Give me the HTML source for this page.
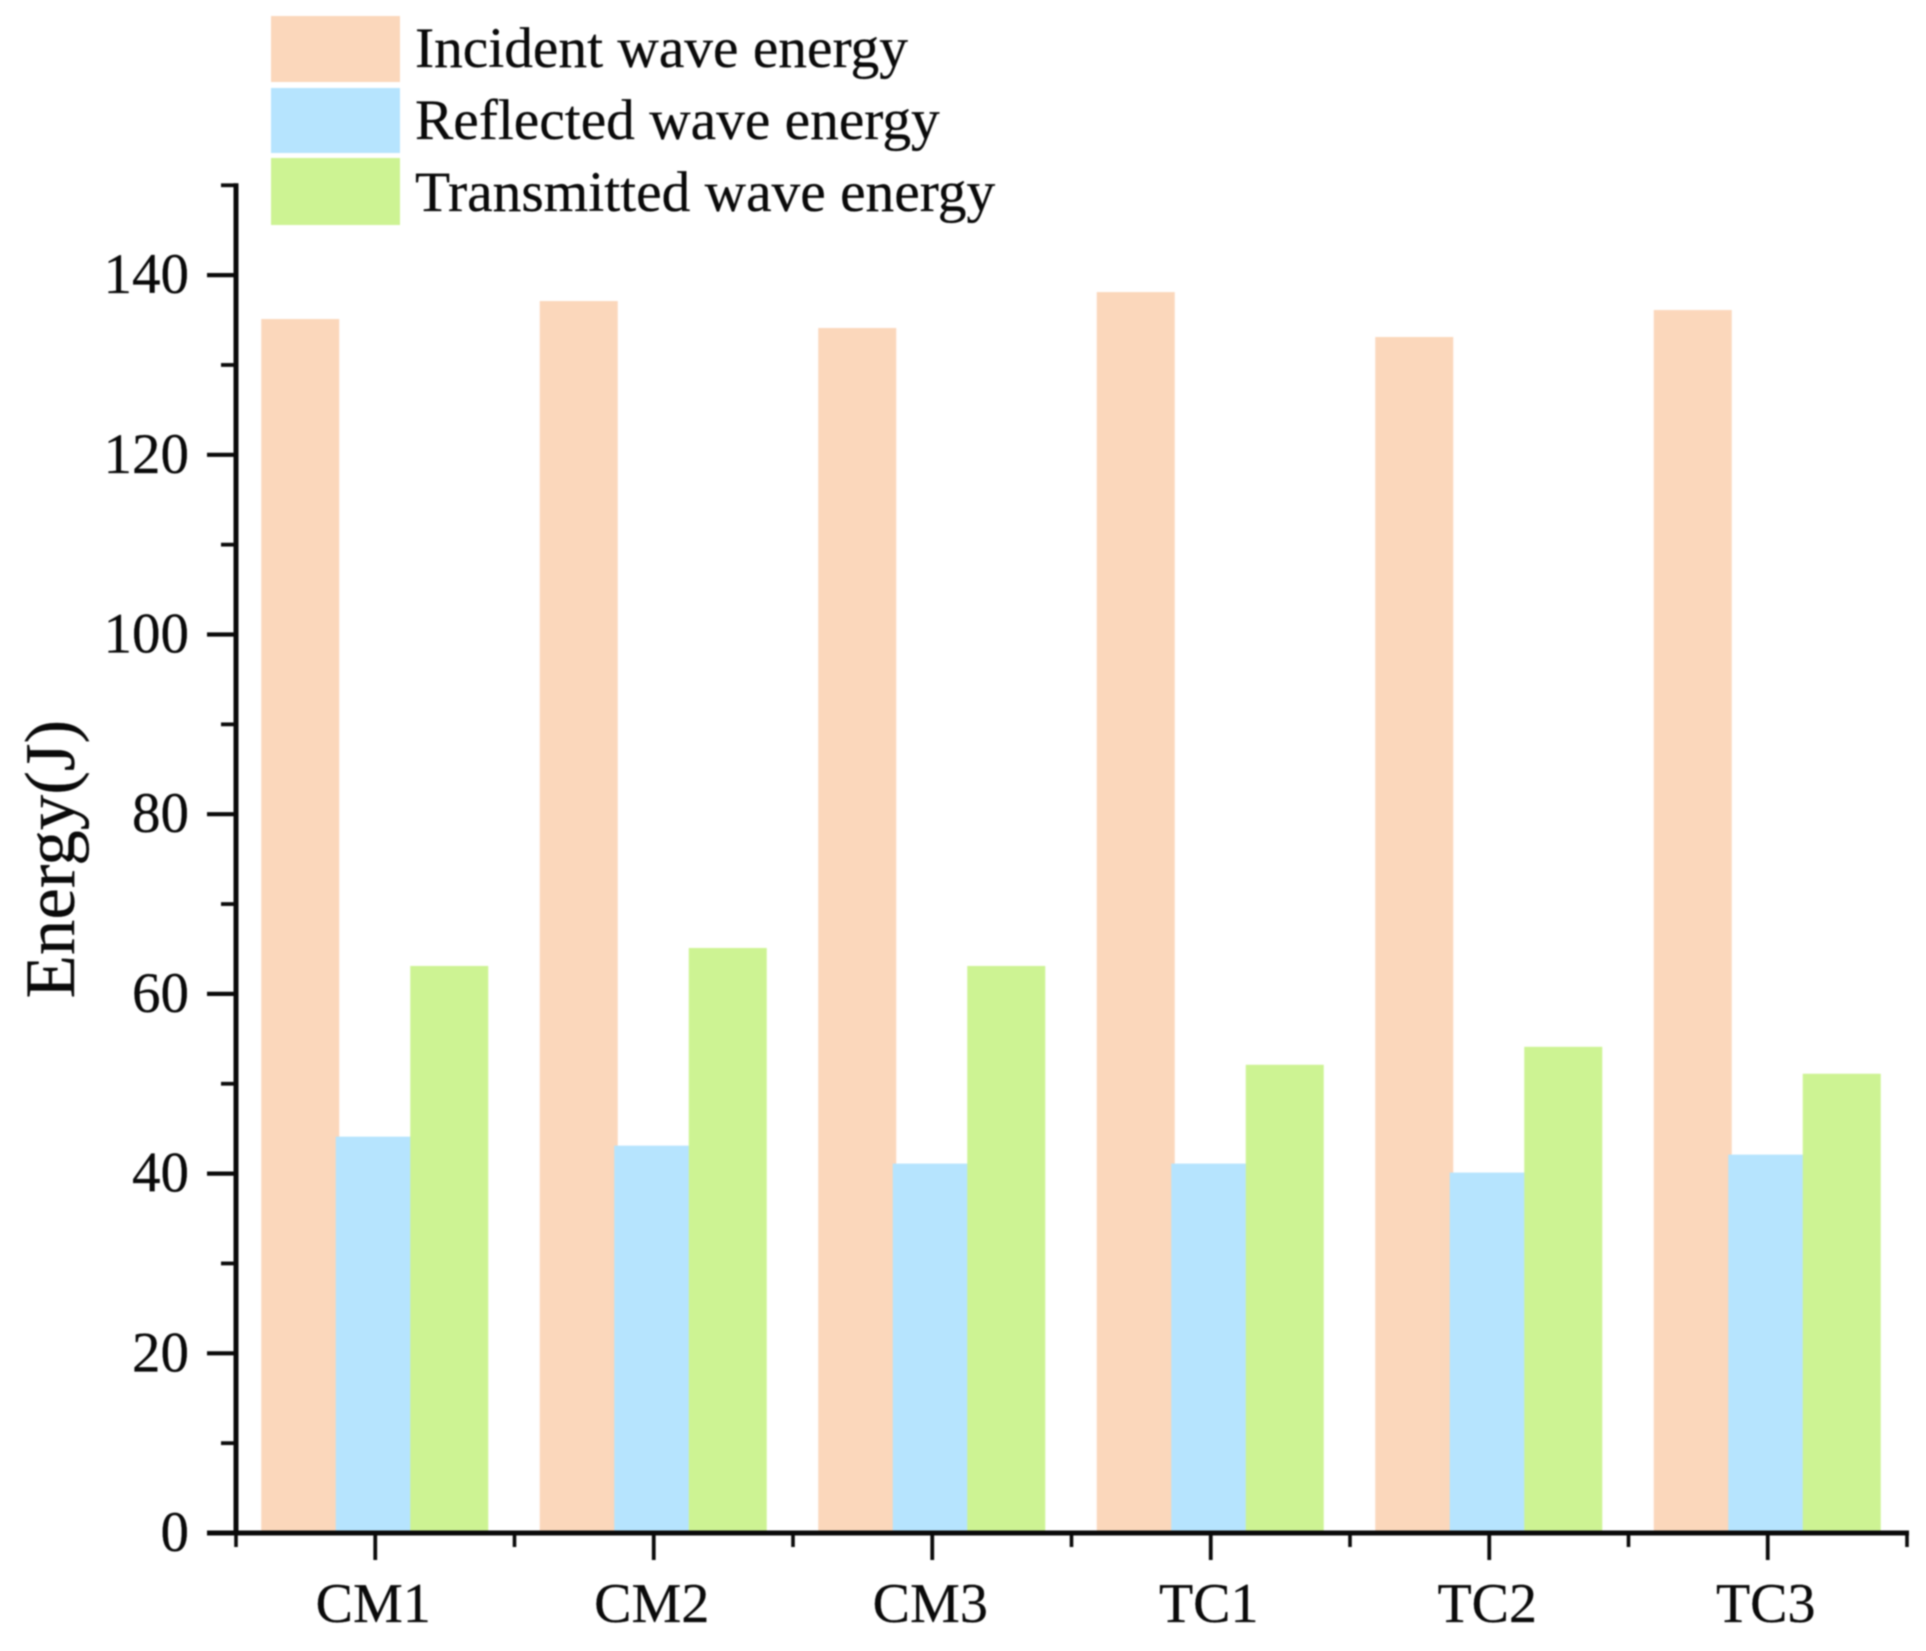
<!DOCTYPE html>
<html lang="en">
<head>
<meta charset="utf-8">
<title>Energy bar chart</title>
<style>
  html, body { margin: 0; padding: 0; background: #ffffff; }
  body { width: 1926px; height: 1651px; overflow: hidden; }
  svg { display: block; }
  text { font-family: "Liberation Serif", serif; fill: #0a0a0a; stroke: #0a0a0a; stroke-width: 0.25px; }
  .soft { filter: blur(0.7px); }
</style>
</head>
<body>
<svg id="chart" xmlns="http://www.w3.org/2000/svg" width="1926" height="1651" viewBox="0 0 1926 1651">
  <g id="bars" class="soft"></g>
  <g id="axes" class="soft"></g>
  <text class="soft" transform="translate(74,998.5) rotate(-90)" font-size="71">Energy(J)</text>
  <g id="legend" class="soft"></g>
</svg>
<script>
const categories = ["CM1", "CM2", "CM3", "TC1", "TC2", "TC3"];
const incidentValues = [135, 137, 134, 138, 133, 136];
const reflectedValues = [44, 43, 41, 41, 40, 42];
const transmittedValues = [63, 65, 63, 52, 54, 51];
const seriesNames = ["Incident wave energy", "Reflected wave energy", "Transmitted wave energy"];
const yTickLabels = [0, 20, 40, 60, 80, 100, 120, 140];
const yMinorValues = [10, 30, 50, 70, 90, 110, 130, 150];

const NS = "http://www.w3.org/2000/svg";
const plot = { left: 236, right: 1907, zero: 1533, unit: 8.985, barW: 78, barStep: 74.5, barBleed: 1 };
const colors = ["#fbd7bb", "#b6e4fe", "#cdf393"];
const allSeries = [incidentValues, reflectedValues, transmittedValues];
const band = (plot.right - plot.left) / categories.length;

function xBand(i) { return plot.left + band * (i + 0.5); }
function xEdge(i) { return plot.left + band * i; }
function yScale(v) { return plot.zero - v * plot.unit; }

function make(tag, attrs, parent) {
  const el = document.createElementNS(NS, tag);
  for (const k in attrs) el.setAttribute(k, attrs[k]);
  parent.appendChild(el);
  return el;
}

const barsG = document.getElementById("bars");
allSeries.forEach(function (values, s) {
  values.forEach(function (v, i) {
    const cx = xBand(i) + (s - 1) * plot.barStep;
    const top = yScale(v) - plot.barBleed;
    const r = make("rect", {
      x: cx - plot.barW / 2 - 0.5,
      y: top,
      width: plot.barW,
      height: plot.zero - top,
      fill: colors[s]
    }, barsG);
    
    
  });
});

const axesG = document.getElementById("axes");
const yAxisLine = make("line", { x1: plot.left, x2: plot.left, y1: yScale(150) - 2, y2: plot.zero + 2, stroke: "#0a0a0a", "stroke-width": 5 }, axesG);


const xAxisLine = make("line", { x1: 207, x2: plot.right + 2, y1: plot.zero, y2: plot.zero, stroke: "#0a0a0a", "stroke-width": 5 }, axesG);



yTickLabels.forEach(function (v) {
  const t = make("line", { x1: 207, x2: plot.left, y1: yScale(v), y2: yScale(v), stroke: "#0a0a0a", "stroke-width": 4.2 }, axesG);
  
  
  const l = make("text", { x: 189, y: yScale(v) + 18, "text-anchor": "end", "font-size": 57 }, axesG);
  l.textContent = String(v);
  
  
});
yMinorValues.forEach(function (v) {
  const t = make("line", { x1: 221, x2: plot.left, y1: yScale(v), y2: yScale(v), stroke: "#0a0a0a", "stroke-width": 3.8 }, axesG);
  
  
});

categories.forEach(function (c, i) {
  const t = make("line", { x1: xBand(i), x2: xBand(i), y1: plot.zero, y2: 1560, stroke: "#0a0a0a", "stroke-width": 3.8 }, axesG);
  
  
  const l = make("text", { x: xBand(i) - 2, y: 1622, "text-anchor": "middle", "font-size": 56 }, axesG);
  l.textContent = c;
  
  
});
for (let i = 0; i <= categories.length; i++) {
  const t = make("line", { x1: xEdge(i), x2: xEdge(i), y1: plot.zero, y2: 1547, stroke: "#0a0a0a", "stroke-width": 3.6 }, axesG);
  
  
}

const legendG = document.getElementById("legend");
const legendTops = [16, 88, 158];
const legendHeights = [66, 65, 67];
const legendBaselines = [67, 139, 211];
seriesNames.forEach(function (name, s) {
  const p = make("rect", { x: 271, y: legendTops[s], width: 129, height: legendHeights[s], fill: colors[s] }, legendG);
  
  
  const l = make("text", { x: 415, y: legendBaselines[s], "font-size": 57.4 }, legendG);
  l.textContent = name;
  
  
});
</script>
</body>
</html>
